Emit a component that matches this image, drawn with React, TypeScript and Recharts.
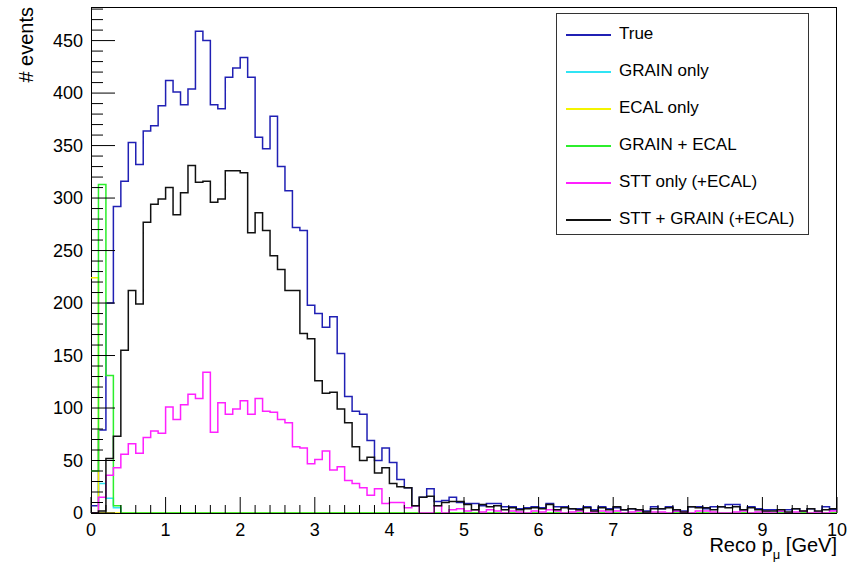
import { ComposedChart, Line, XAxis, YAxis } from 'recharts';

// binning of the muon momentum histograms: 100 bins of 0.1 GeV
const X_MIN = 0;
const X_MAX = 10;
const N_BINS = 100;
const Y_MAX = 482;

const xMajorTicks = [0, 1, 2, 3, 4, 5, 6, 7, 8, 9, 10];
const yMajorTicks = [0, 50, 100, 150, 200, 250, 300, 350, 400, 450];
const X_SUBDIV = 5;
const Y_SUBDIV = 5;

// counts per bin, lowest bin first
const trueCounts = [
  7, 79, 200, 292, 316, 353, 332, 364, 369, 388,
  412, 401, 389, 404, 459, 450, 389, 385, 415, 424,
  434, 415, 358, 347, 378, 330, 307, 272, 269, 198,
  190, 177, 187, 152, 111, 97, 94, 69, 50, 62,
  48, 32, 24, 7, 15, 23, 11, 12, 15, 10,
  9, 9, 7, 9, 9, 6, 6, 4, 5, 6,
  5, 9, 6, 6, 4, 4, 6, 3, 6, 4,
  5, 3, 4, 3, 2, 6, 4, 6, 2, 2,
  6, 6, 4, 6, 6, 8, 8, 3, 6, 4,
  3, 3, 1, 3, 4, 1, 4, 1, 6, 3,
];
const grainOnly = [0, 28, 14, 5];
const ecalOnly = [224];
const grainEcal = [40, 313, 131, 7];
const sttOnly = [
  0, 15, 36, 43, 56, 66, 57, 72, 78, 76,
  101, 89, 103, 113, 109, 134, 77, 105, 94, 99,
  107, 94, 109, 97, 96, 89, 86, 63, 62, 47,
  51, 59, 41, 44, 31, 28, 24, 17, 23, 9,
  10, 10, 5, 7, 0, 0, 7, 0, 3, 4,
  2, 3, 1, 3, 2, 0, 2, 1, 0, 2,
  1, 3, 2, 0, 1, 2, 0, 1, 2, 1,
  2, 0, 1, 2, 0, 1, 1, 0, 2, 1,
  0, 2, 2, 1, 0, 0, 1, 2, 0, 1,
  1, 0, 2, 0, 1, 2, 0, 1, 0, 2,
];
const sttGrain = [
  0, 2, 52, 73, 155, 212, 199, 277, 294, 299,
  310, 284, 305, 331, 315, 316, 296, 299, 326, 326,
  324, 267, 286, 269, 245, 232, 212, 212, 171, 166,
  126, 114, 115, 99, 86, 63, 50, 53, 38, 43,
  28, 25, 24, 7, 15, 16, 7, 10, 11, 11,
  8, 3, 8, 6, 7, 3, 5, 3, 4, 5,
  4, 8, 3, 5, 4, 3, 5, 2, 5, 3,
  6, 3, 4, 3, 1, 4, 4, 5, 3, 1,
  6, 5, 5, 3, 6, 5, 6, 3, 5, 3,
  2, 2, 3, 1, 4, 2, 4, 2, 3, 4,
];

const seriesKeys = ['all', 'grain', 'ecal', 'grainEcal', 'stt', 'sttGrain'];
const seriesNames = ['True', 'GRAIN only', 'ECAL only', 'GRAIN + ECAL', 'STT only (+ECAL)', 'STT + GRAIN (+ECAL)'];
const seriesColors = ['#2020b4', '#30e4f4', '#f4f400', '#2cee2c', '#ff20ff', '#111111'];
const seriesCounts = [trueCounts, grainOnly, ecalOnly, grainEcal, sttOnly, sttGrain];

const FONT = '"Liberation Sans", Arial, Helvetica, sans-serif';

// one row per bin edge; the last edge repeats the last bin so stepAfter closes it
const binWidth = (X_MAX - X_MIN) / N_BINS;
const data = Array.from({ length: N_BINS + 1 }, (_, i) => {
  const row: Record<string, number> = { x: Math.round((X_MIN + i * binWidth) * 1000) / 1000 };
  seriesKeys.forEach((key, s) => {
    row[key] = seriesCounts[s][Math.min(i, N_BINS - 1)] ?? 0;
  });
  return row;
});

function subdivide(majors: number[], n: number, max: number) {
  const step = (majors[1] - majors[0]) / n;
  const out: number[] = [];
  for (let v = majors[0]; v <= max + 1e-9; v += step) out.push(Math.round(v * 1000) / 1000);
  return out;
}

const xTicks = subdivide(xMajorTicks, X_SUBDIV, X_MAX);
const yTicks = subdivide(yMajorTicks, Y_SUBDIV, Y_MAX);

const isMajor = (v: number, list: number[]) => list.some(m => Math.abs(m - v) < 1e-6);

function XTick({ x, y, payload }: any) {
  const major = isMajor(payload.value, xMajorTicks);
  return (
    <g>
      <line x1={x} x2={x} y1={y} y2={y - (major ? 16 : 8)} stroke="#000" strokeWidth={1} />
      {major && (
        <text x={x} y={y + 23} textAnchor="middle" fontSize={18} fontFamily={FONT} fill="#000">
          {payload.value}
        </text>
      )}
    </g>
  );
}

function YTick({ x, y, payload }: any) {
  const major = isMajor(payload.value, yMajorTicks);
  return (
    <g>
      <line x1={x} x2={x + (major ? 24 : 12)} y1={y} y2={y} stroke="#000" strokeWidth={1} />
      {major && (
        <text x={x - 8} y={y + 6} textAnchor="end" fontSize={18} fontFamily={FONT} fill="#000">
          {payload.value}
        </text>
      )}
    </g>
  );
}

function HistLegend() {
  return (
    <div
      style={{
        position: 'absolute', left: 556, top: 13, width: 253, height: 222,
        boxSizing: 'border-box', border: '1px solid #333', background: '#fff',
        fontFamily: FONT, fontSize: 17, color: '#000',
      }}
    >
      {seriesNames.map((name, i) => (
        <div key={name} style={{ position: 'absolute', left: 0, top: 21 + i * 37, height: 0, width: '100%' }}>
          <div style={{ position: 'absolute', left: 9, top: -1, width: 45, height: 2, background: seriesColors[i] }} />
          <span style={{ position: 'absolute', left: 62, top: -11, whiteSpace: 'nowrap', lineHeight: '20px' }}>{name}</span>
        </div>
      ))}
    </div>
  );
}

export default function App() {
  return (
    <div style={{ position: 'absolute', left: 0, top: 0, width: 860, height: 565, background: '#fff', overflow: 'hidden' }}>
      {/* frame around the pad */}
      <div style={{ position: 'absolute', left: 91, top: 7, width: 746, height: 507, boxSizing: 'border-box', border: '1px solid #000' }} />
      <div style={{ position: 'absolute', left: 0, top: 0 }}>
        <ComposedChart width={860} height={565} data={data} margin={{ top: 7, right: 23, bottom: 0, left: 0 }}>
          <XAxis
            type="number"
            dataKey="x"
            domain={[X_MIN, X_MAX]}
            ticks={xTicks}
            interval={0}
            height={52}
            tickSize={0}
            tickMargin={0}
            tickLine={false}
            axisLine={false}
            tick={<XTick />}
            allowDataOverflow
          />
          <YAxis
            type="number"
            domain={[0, Y_MAX]}
            ticks={yTicks}
            interval={0}
            width={91}
            tickSize={0}
            tickMargin={0}
            tickLine={false}
            axisLine={false}
            tick={<YTick />}
            allowDataOverflow
          />
          {seriesKeys.map((key, i) => (
            <Line
              key={key}
              type="stepAfter"
              dataKey={key}
              name={seriesNames[i]}
              stroke={seriesColors[i]}
              strokeWidth={1.5}
              dot={false}
              activeDot={false}
              isAnimationActive={false}
            />
          ))}
        </ComposedChart>
      </div>
      <HistLegend />
      {/* y title reads bottom to top, ending at the top of the frame */}
      <div
        style={{
          position: 'absolute', left: 15, top: 7, fontFamily: FONT, fontSize: 20, lineHeight: '23px',
          whiteSpace: 'nowrap', writingMode: 'vertical-rl', transform: 'rotate(180deg)',
        }}
      >
        # events
      </div>
      <div style={{ position: 'absolute', right: 860 - 837, top: 534, fontFamily: FONT, fontSize: 20, whiteSpace: 'nowrap' }}>
        Reco p<span style={{ fontSize: 13, position: 'relative', top: 7 }}>μ</span> [GeV]
      </div>
    </div>
  );
}
